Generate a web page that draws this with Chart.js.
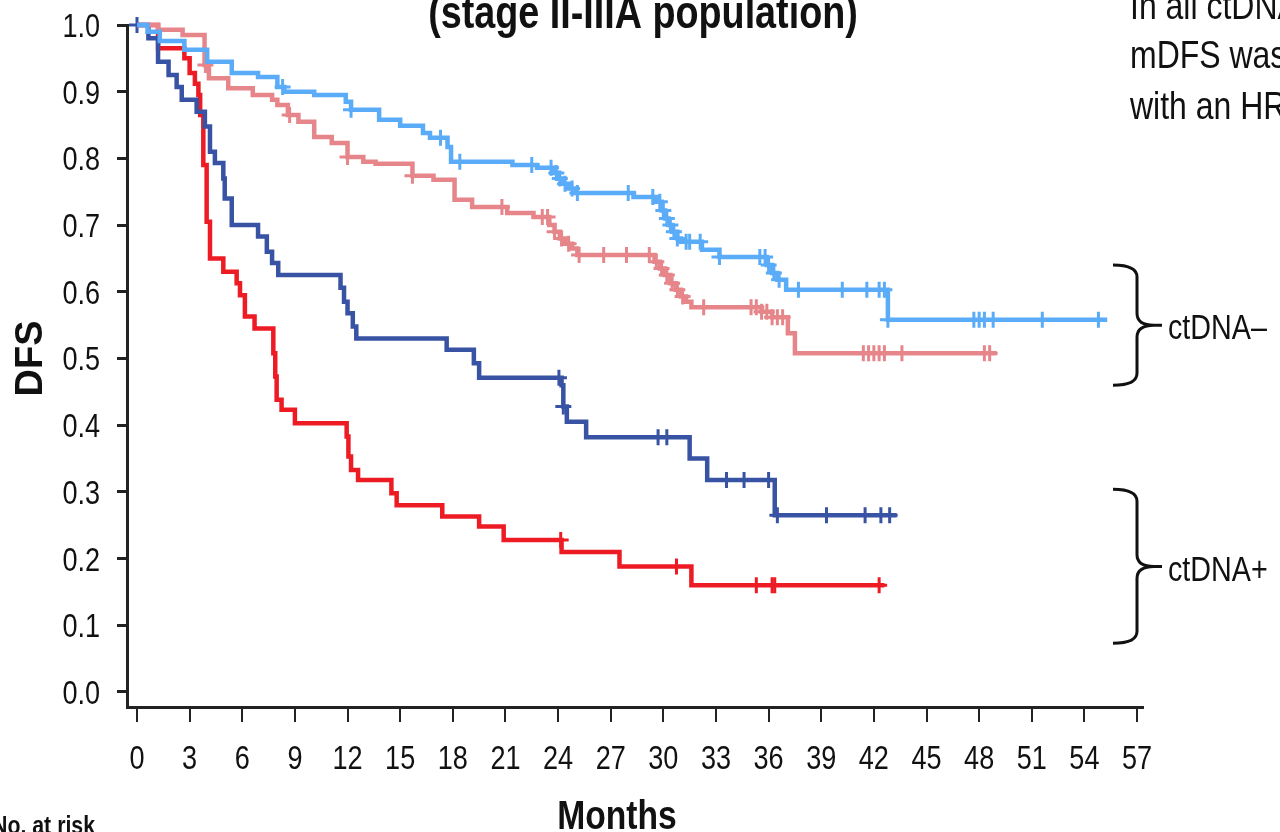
<!DOCTYPE html>
<html lang="en">
<head>
<meta charset="UTF-8">
<title>DFS by ctDNA status (stage II-IIIA population)</title>
<script src="https://cdn.jsdelivr.net/npm/chart.js@4"></script>
<style>
  html, body { margin: 0; padding: 0; background: #fff; overflow: hidden; }
</style>
</head>
<body>
<canvas id="km" width="1280" height="832"></canvas>
<script>
// axis ticks
const xTicks = [0, 3, 6, 9, 12, 15, 18, 21, 24, 27, 30, 33, 36, 39, 42, 45, 48, 51, 54, 57];
const yTicks = [0, 0.1, 0.2, 0.3, 0.4, 0.5, 0.6, 0.7, 0.8, 0.9, 1.0];

// ctDNA- , light blue arm: event times (months) and DFS after each event
const negBlueTimes = [0.6, 1.3, 2.7, 4.0, 5.4, 6.9, 8.0, 8.4, 10.1, 11.9, 12.2, 13.8, 15.0, 16.3, 16.7, 17.7, 17.9, 21.4, 22.8, 23.7, 24.0, 24.3, 24.6, 25.0, 28.3, 29.6, 29.9, 30.1, 30.3, 30.5, 30.8, 31.0, 32.2, 33.2, 35.9, 36.2, 36.5, 37.0, 42.8];
const negBlueSurv  = [0.99, 0.976, 0.963, 0.945, 0.928, 0.922, 0.907, 0.9, 0.895, 0.885, 0.873, 0.858, 0.849, 0.838, 0.831, 0.817, 0.795, 0.79, 0.786, 0.778, 0.77, 0.762, 0.755, 0.748, 0.742, 0.735, 0.722, 0.71, 0.7, 0.69, 0.68, 0.675, 0.663, 0.652, 0.64, 0.628, 0.618, 0.603, 0.558];
const negBlueEnd = 55.3;
const negBlueCensor = [8.3, 12.2, 17.3, 18.4, 22.5, 23.6, 23.9, 24.1, 24.4, 24.8, 25.1, 28.0, 29.4, 29.8, 30.0, 30.2, 30.4, 30.6, 30.8, 31.3, 31.5, 32.1, 33.2, 35.5, 35.8, 36.0, 36.3, 36.6, 37.7, 40.2, 41.6, 42.3, 42.6, 42.8, 47.7, 48.0, 48.3, 48.8, 51.6, 54.8];

// ctDNA- , pink arm
const negPinkTimes = [1.2, 2.6, 3.85, 4.1, 5.2, 6.6, 7.7, 8.0, 8.6, 9.2, 10.1, 11.1, 12.0, 12.9, 13.6, 15.7, 16.9, 18.1, 19.1, 21.1, 22.6, 23.5, 23.8, 24.1, 24.4, 24.8, 25.1, 29.5, 29.8, 30.1, 30.4, 30.7, 31.0, 31.3, 31.6, 35.6, 36.2, 37.1, 37.5];
const negPinkSurv  = [0.993, 0.985, 0.94, 0.92, 0.905, 0.895, 0.888, 0.88, 0.865, 0.855, 0.832, 0.823, 0.802, 0.795, 0.792, 0.774, 0.768, 0.738, 0.727, 0.718, 0.712, 0.70, 0.69, 0.68, 0.672, 0.665, 0.655, 0.645, 0.635, 0.625, 0.613, 0.603, 0.593, 0.585, 0.577, 0.57, 0.562, 0.538, 0.508];
const negPinkEnd = 49.0;
const negPinkCensor = [3.9, 8.7, 12.0, 15.7, 20.8, 23.1, 23.4, 23.8, 24.2, 24.6, 25.2, 26.6, 27.9, 29.2, 29.6, 29.9, 30.2, 30.5, 30.8, 31.1, 32.3, 35.0, 35.3, 35.6, 35.9, 36.2, 36.5, 36.8, 41.4, 41.7, 42.0, 42.3, 42.6, 43.6, 48.3, 48.6];

// ctDNA+ , dark blue arm
const posBlueTimes = [0.65, 1.2, 1.8, 2.26, 2.55, 3.4, 3.87, 4.16, 4.44, 4.92, 5.0, 5.4, 6.9, 7.4, 7.7, 8.05, 11.6, 11.8, 12.0, 12.3, 12.5, 17.65, 19.2, 19.5, 24.2, 24.3, 24.5, 25.6, 31.5, 32.5, 36.35];
const posBlueSurv  = [0.98, 0.945, 0.925, 0.907, 0.888, 0.87, 0.848, 0.81, 0.793, 0.77, 0.74, 0.70, 0.683, 0.66, 0.643, 0.625, 0.606, 0.585, 0.568, 0.548, 0.53, 0.513, 0.493, 0.471, 0.46, 0.428, 0.405, 0.382, 0.35, 0.318, 0.265];
const posBlueEnd = 43.3;
const posBlueCensor = [0.0, 24.05, 24.3, 29.7, 30.2, 33.6, 34.6, 36.0, 36.5, 39.3, 41.5, 42.4, 42.9];

// ctDNA+ , red arm
const posRedTimes = [1.2, 2.7, 3.0, 3.3, 3.5, 3.6, 3.78, 3.97, 4.16, 4.92, 5.68, 5.87, 6.15, 6.7, 7.77, 7.88, 7.96, 8.24, 9.0, 11.95, 12.05, 12.2, 12.6, 14.5, 14.8, 17.4, 19.5, 20.9, 24.2, 27.5, 31.6];
const posRedSurv  = [0.965, 0.95, 0.928, 0.912, 0.895, 0.865, 0.79, 0.705, 0.65, 0.63, 0.613, 0.595, 0.563, 0.545, 0.508, 0.473, 0.438, 0.423, 0.403, 0.383, 0.353, 0.333, 0.318, 0.298, 0.28, 0.263, 0.248, 0.228, 0.21, 0.188, 0.16];
const posRedEnd = 42.6;
const posRedCensor = [24.15, 30.75, 35.3, 36.2, 36.35, 42.3];

const FONT = "'Liberation Sans', Arial, sans-serif";
const NARROW = 0.82; // squeeze factor to get an Arial Narrow look

function stepPoints(times, surv, end) {
  const pts = [{ x: 0, y: 1 }];
  times.forEach((t, i) => pts.push({ x: t, y: surv[i] }));
  pts.push({ x: end, y: surv[surv.length - 1] });
  return pts;
}
function survAt(times, surv, t) {
  let s = 1;
  for (let i = 0; i < times.length; i++) if (times[i] <= t) s = surv[i];
  return s;
}
function censorPoints(times, surv, cens) {
  return cens.map(t => ({ x: t, y: survAt(times, surv, t) }));
}

const arms = [
  { times: negBlueTimes, surv: negBlueSurv, end: negBlueEnd, cens: negBlueCensor, color: '#5aabf8' },
  { times: negPinkTimes, surv: negPinkSurv, end: negPinkEnd, cens: negPinkCensor, color: '#e6868b' },
  { times: posBlueTimes, surv: posBlueSurv, end: posBlueEnd, cens: posBlueCensor, color: '#3853a3' },
  { times: posRedTimes,  surv: posRedSurv,  end: posRedEnd,  cens: posRedCensor,  color: '#ed1c24' }
];

const datasets = [];
arms.forEach(a => {
  datasets.push({
    data: stepPoints(a.times, a.surv, a.end),
    stepped: true, borderColor: a.color, borderWidth: 4.5,
    pointRadius: 0, fill: false, clip: 10
  });
  datasets.push({
    data: censorPoints(a.times, a.surv, a.cens),
    showLine: false, pointStyle: 'cross', pointRadius: 8,
    pointBorderWidth: 3, pointBorderColor: a.color, pointBackgroundColor: a.color, clip: 10
  });
});

function squeezed(ctx, text, x, y, font, align, sx) {
  ctx.save();
  ctx.font = font;
  ctx.textAlign = align;
  ctx.translate(x, y);
  ctx.scale(sx === undefined ? NARROW : sx, 1);
  ctx.fillText(text, 0, 0);
  ctx.restore();
}

// curly brace next to the curve groups
function brace(ctx, xl, xs, xt, yTop, yMid, yBot) {
  const r = 12;
  ctx.beginPath();
  ctx.moveTo(xl, yTop);
  ctx.quadraticCurveTo(xs, yTop, xs, yTop + r);
  ctx.lineTo(xs, yMid - r);
  ctx.quadraticCurveTo(xs, yMid, xt - 8, yMid);
  ctx.lineTo(xt, yMid);
  ctx.moveTo(xt - 8, yMid);
  ctx.quadraticCurveTo(xs, yMid, xs, yMid + r);
  ctx.lineTo(xs, yBot - r);
  ctx.quadraticCurveTo(xs, yBot, xl, yBot);
  ctx.stroke();
}

const decor = {
  id: 'decor',
  afterDraw(chart) {
    const { ctx } = chart;
    const xs = chart.scales.x, ys = chart.scales.y;
    ctx.save();
    ctx.fillStyle = '#111';
    ctx.textBaseline = 'alphabetic';

    // tick labels
    const tickFont = '33px ' + FONT;
    xs.ticks.forEach(t => squeezed(ctx, String(t.value), xs.getPixelForValue(t.value), 769, tickFont, 'center'));
    ys.ticks.forEach(t => squeezed(ctx, t.value.toFixed(1), 100, ys.getPixelForValue(t.value) + 12, tickFont, 'right'));

    // axis titles
    squeezed(ctx, 'Months', 617, 829, 'bold 41px ' + FONT, 'center');
    ctx.save();
    ctx.translate(42, ys.getPixelForValue(0.5));
    ctx.rotate(-Math.PI / 2);
    squeezed(ctx, 'DFS', 0, 0, 'bold 38px ' + FONT, 'center', 1);
    ctx.restore();

    squeezed(ctx, '(stage II-IIIA population)', 643, 28, 'bold 46px ' + FONT, 'center');

    squeezed(ctx, 'In all ctDNA', 1130, 19, '39px ' + FONT, 'left');
    squeezed(ctx, 'mDFS was', 1130, 68, '39px ' + FONT, 'left');
    squeezed(ctx, 'with an HR', 1130, 119, '39px ' + FONT, 'left');

    ctx.strokeStyle = '#111';
    ctx.lineWidth = 3;
    brace(ctx, 1113, 1137, 1162, ys.getPixelForValue(0.64), ys.getPixelForValue(0.55), ys.getPixelForValue(0.46));
    brace(ctx, 1113, 1137, 1162, ys.getPixelForValue(0.304), ys.getPixelForValue(0.188), ys.getPixelForValue(0.073));

    squeezed(ctx, 'ctDNA\u2013', 1168, ys.getPixelForValue(0.55) + 14, '35px ' + FONT, 'left');
    squeezed(ctx, 'ctDNA+', 1168, ys.getPixelForValue(0.188) + 14, '35px ' + FONT, 'left');

    squeezed(ctx, 'No. at risk', -8, 834, 'bold 26px ' + FONT, 'left');
    ctx.restore();
  }
};

new Chart(document.getElementById('km'), {
  type: 'line',
  data: { datasets },
  plugins: [decor],
  options: {
    responsive: false,
    animation: false,
    devicePixelRatio: 1,
    layout: { padding: { top: 25, right: 137, left: 0, bottom: 0 } },
    plugins: { legend: { display: false }, tooltip: { enabled: false } },
    scales: {
      x: {
        type: 'linear', min: -0.57, max: 57.34,
        afterBuildTicks: s => { s.ticks = xTicks.map(v => ({ value: v })); },
        afterFit: s => { s.height = 125; },
        ticks: { display: false },
        grid: { drawOnChartArea: false, tickLength: 15, color: '#222', lineWidth: 2 },
        border: { color: '#222', width: 3 }
      },
      y: {
        type: 'linear', min: -0.0225, max: 1.0,
        afterBuildTicks: s => { s.ticks = yTicks.map(v => ({ value: v })); },
        afterFit: s => { s.width = 127; },
        ticks: { display: false },
        grid: { drawOnChartArea: false, tickLength: 10, color: '#222', lineWidth: 3 },
        border: { color: '#222', width: 3 }
      }
    }
  }
});
</script>
</body>
</html>
